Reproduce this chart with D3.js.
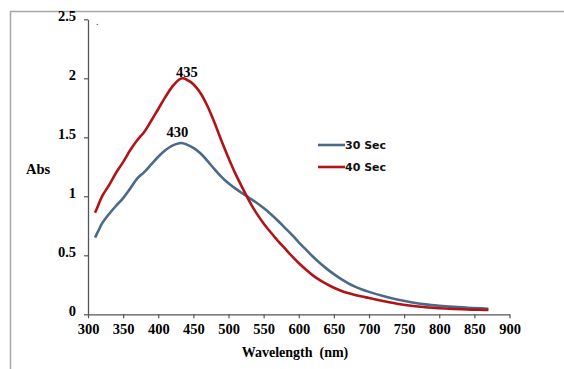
<!DOCTYPE html>
<html><head><meta charset="utf-8">
<script src="https://cdn.jsdelivr.net/npm/d3@7"></script>
<style>html,body{margin:0;padding:0;background:#fff;}svg{display:block;}</style>
</head><body>
<script>
const wavelengths = [310,315,320,330,340,350,360,370,380,390,400,410,420,430,435,440,450,460,470,480,490,500,510,520,530,540,550,560,570,580,590,600,610,620,630,640,650,660,670,680,690,700,720,740,760,780,800,820,840,860,870];
const sec30 = [0.65,0.71,0.77,0.85,0.92,0.985,1.065,1.15,1.205,1.27,1.335,1.39,1.43,1.45,1.45,1.44,1.41,1.365,1.30,1.23,1.165,1.11,1.065,1.025,0.985,0.945,0.90,0.85,0.795,0.735,0.675,0.61,0.55,0.49,0.435,0.385,0.34,0.30,0.265,0.235,0.21,0.19,0.155,0.125,0.102,0.084,0.072,0.063,0.056,0.05,0.047];
const sec40 = [0.86,0.93,1.00,1.095,1.20,1.29,1.39,1.475,1.545,1.64,1.74,1.84,1.93,1.99,2.00,1.99,1.95,1.875,1.765,1.625,1.47,1.325,1.19,1.07,0.955,0.855,0.77,0.695,0.625,0.56,0.495,0.435,0.38,0.33,0.29,0.255,0.225,0.20,0.18,0.164,0.15,0.138,0.113,0.09,0.073,0.06,0.051,0.045,0.041,0.038,0.036];
const seriesNames = ["30 Sec","40 Sec"];
const seriesColors = ["#4a6a88","#b01318"];
const xTicks = [300,350,400,450,500,550,600,650,700,750,800,850,900];
const yTicks = [0,0.5,1,1.5,2,2.5];
const peakLabels = [{text:"435", x:435, y:2.0, s:1},{text:"430", x:430, y:1.45, s:0}];

const W=564,H=369;
const svg=d3.select("body").append("svg").attr("width",W).attr("height",H);
svg.append("rect").attr("width",W).attr("height",H).attr("fill","#fff");
// frame
svg.append("path").attr("d","M10.5,369 V11.5 H564").attr("fill","none").attr("stroke","#a6a6a6").attr("stroke-width",1.5);

const x=d3.scaleLinear().domain([300,900]).range([88,509.5]);
const y=d3.scaleLinear().domain([0,2.5]).range([314.3,19.3]);

const serif="'Liberation Serif','Times New Roman',serif";
const yAxis=svg.append("g").attr("transform","translate(88,0)")
  .call(d3.axisLeft(y).tickValues(yTicks).tickFormat(d=>String(d)).tickSize(4).tickSizeOuter(0).tickPadding(8));
const xAxis=svg.append("g").attr("transform","translate(0,314.3)")
  .call(d3.axisBottom(x).tickValues(xTicks).tickFormat(d=>String(d)).tickSize(4).tickSizeOuter(0).tickPadding(3));
[yAxis,xAxis].forEach(g=>{
  g.select(".domain").attr("stroke","#555").attr("stroke-width",1.3);
  g.selectAll(".tick line").attr("stroke","#555").attr("stroke-width",1.2);
  g.selectAll("text").attr("font-family",serif).attr("font-weight","bold").attr("font-size",14.5).attr("fill","#000");
});
xAxis.selectAll("text").attr("dy","0.9em");
yAxis.selectAll("text").attr("dy","0.05em");

const data=[sec30,sec40];
const line=d3.line().x((d,i)=>x(wavelengths[i])).y(d=>y(d)).curve(d3.curveCatmullRom.alpha(0.5));
data.forEach((s,k)=>{
  svg.append("path").datum(s).attr("d",line).attr("fill","none").attr("stroke",seriesColors[k]).attr("stroke-width",2.6).attr("stroke-linejoin","round");
});

peakLabels.forEach(p=>{
  svg.append("text").attr("x",x(p.x)+ (p.s?4:-2)).attr("y",y(p.y)-(p.s?1:6)).attr("text-anchor","middle")
    .attr("font-family",serif).attr("font-weight","bold").attr("font-size",14.5).attr("fill","#000").text(p.text);
});

// axis titles
svg.append("text").attr("x",295).attr("y",357).attr("text-anchor","middle").attr("font-family",serif).attr("font-weight","bold").attr("font-size",14).attr("fill","#000").attr("xml:space","preserve").style("white-space","pre").text("Wavelength  (nm)");
svg.append("text").attr("x",26).attr("y",174).attr("font-family",serif).attr("font-weight","bold").attr("font-size",14.5).attr("fill","#000").text("Abs");
svg.append("text").attr("x",96).attr("y",25).attr("font-family",serif).attr("font-size",10).attr("fill","#333").text(".");

// legend
const lg=svg.append("g");
seriesNames.forEach((n,k)=>{
  const yy=145+k*22;
  lg.append("line").attr("x1",318).attr("x2",345).attr("y1",yy).attr("y2",yy).attr("stroke",seriesColors[k]).attr("stroke-width",2.6);
  lg.append("text").attr("x",345).attr("y",yy+4).attr("font-family","'DejaVu Sans',Verdana,sans-serif").attr("font-weight","bold").attr("font-size",11).attr("fill","#111").text(n);
});
</script>
</body></html>
